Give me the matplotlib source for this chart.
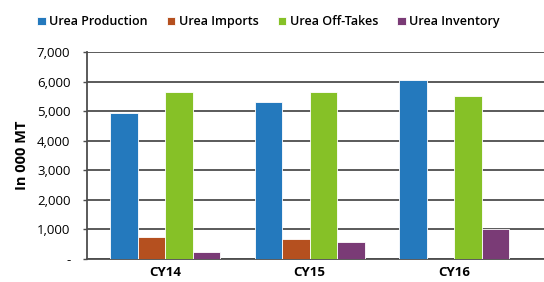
import numpy as np
import matplotlib.pyplot as plt
from matplotlib.ticker import FuncFormatter

plt.rcParams['font.family'] = ['Open Sans', 'DejaVu Sans']

years = ['CY14', 'CY15', 'CY16']
series = ['Urea Production', 'Urea Imports', 'Urea Off-Takes', 'Urea Inventory']
production = [4930, 5330, 6070]
imports = [730, 660, 0]
offtakes = [5650, 5650, 5520]
inventory = [220, 550, 1020]
colors = ['#2479BD', '#B5501F', '#86C127', '#7A3B76']

fig = plt.figure(figsize=(5.44, 2.82), dpi=100)
ax = fig.add_axes([0.16, 0.083, 0.84, 0.731])

x = np.arange(len(years))
w = 0.19
for i, (vals, name) in enumerate(zip([production, imports, offtakes, inventory], series)):
    ax.bar(x + (i - 1.5) * w, vals, w, color=colors[i], edgecolor='white',
           linewidth=0.6, label=name, zorder=3)

ax.set_ylim(0, 7000)
ax.set_xlim(-0.54, 2.62)
ax.set_yticks(range(0, 7001, 1000))
ax.yaxis.set_major_formatter(FuncFormatter(lambda v, p: '-' if v == 0 else f'{int(v):,}'))
ax.grid(axis='y', color='#4d4d4d', linewidth=1.3, zorder=0)
ax.set_xticks(x)
ax.set_xticklabels(years, fontweight='bold', fontsize=9.5)
ax.tick_params(axis='x', length=0, pad=5)
ax.tick_params(axis='y', length=3, width=1, color='#4d4d4d', labelsize=9.5, pad=9)
for s in ['top', 'right']:
    ax.spines[s].set_visible(False)
ax.spines['left'].set_color('#4d4d4d')
ax.spines['left'].set_linewidth(1.3)
ax.spines['bottom'].set_color('#4d4d4d')
ax.spines['bottom'].set_linewidth(1.3)
ax.set_ylabel('In 000 MT', fontweight='bold', fontsize=10.5, labelpad=6)

fig.legend(loc='upper left', bbox_to_anchor=(0.047, 0.985), ncol=4, frameon=False,
           prop={'weight': 'semibold', 'size': 9}, handlelength=0.7,
           handleheight=0.7, handletextpad=0.25, columnspacing=1.55)

fig.savefig('out.png', dpi=100)
